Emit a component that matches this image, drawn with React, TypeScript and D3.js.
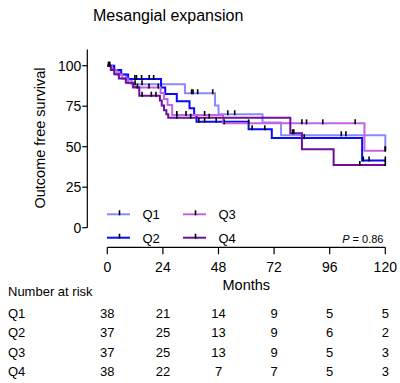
import React from "react";
import * as d3 from "d3";

// Kaplan–Meier step data: event times (months) and survival (%) after each step
const q1Times = [0, 2.5, 5, 8, 10.5, 33.5, 46.5, 48, 67, 75, 120];
const q1Surv = [100, 97.3, 94.6, 91.3, 88.5, 83, 75.5, 70, 65, 57, 48];
const q1Censor = [1, 12, 15, 36.4, 37, 39, 45.5, 52, 55, 101, 103, 120];

const q2Times = [0, 3, 6, 9, 23.2, 25, 30, 35.5, 37.5, 38.5, 61, 71, 110];
const q2Surv = [100, 97.3, 94.6, 91.8, 86.5, 82.5, 78, 73.7, 69.5, 65.4, 60.7, 55.3, 41.5];
const q2Censor = [1, 11.9, 12.6, 14.8, 18.1, 20, 39.5, 42, 47, 62.5, 68, 85, 110.5, 113, 120];

const q3Times = [0, 2, 4, 6.5, 9, 11, 23, 24.5, 26, 28, 50, 111];
const q3Surv = [100, 97.3, 94.6, 91.9, 89.2, 86.5, 83.2, 79.5, 75.7, 69.6, 64.4, 47.5];
const q3Censor = [13, 18, 22, 30, 34, 42, 50.5, 61, 84, 86, 93, 107, 120];

const q4Times = [0, 1.5, 3, 5, 8, 11.2, 13.8, 22.7, 23.5, 24.5, 25.5, 26.3, 79, 84, 97.7];
const q4Surv = [100, 97.4, 94.7, 92.1, 89.5, 86.7, 81.5, 78.5, 75.5, 72.5, 70, 67.9, 58.3, 48.4, 38.7];
const q4Censor = [0.5, 15, 19, 21, 30, 36, 44, 80, 80.5, 109, 120];

const groupNames = ["Q1", "Q2", "Q3", "Q4"];
const groupColors = ["#8a8aff", "#0a0aff", "#c264e6", "#6c0ea0"];

const xTicks = [0, 24, 48, 72, 96, 120];
const yTicks = [0, 25, 50, 75, 100];

// Number at risk at each x tick
const riskQ1 = [38, 21, 14, 9, 5, 5];
const riskQ2 = [37, 25, 13, 9, 6, 2];
const riskQ3 = [37, 25, 13, 9, 5, 3];
const riskQ4 = [38, 22, 7, 7, 5, 3];

const pValueText = "0.86";

const FONT = "'Liberation Sans', Arial, Helvetica, sans-serif";

export default function App() {
  const width = 400;
  const height = 383;
  const x = d3.scaleLinear().domain([0, 120]).range([107.3, 385.3]);
  const y = d3.scaleLinear().domain([0, 110]).range([227.7, 49.5]);
  const yAxisX = 87.3;
  const xAxisY = 247.3;

  const groups = [
    { times: q1Times, surv: q1Surv, censor: q1Censor },
    { times: q2Times, surv: q2Surv, censor: q2Censor },
    { times: q3Times, surv: q3Surv, censor: q3Censor },
    { times: q4Times, surv: q4Surv, censor: q4Censor },
  ];
  const risks = [riskQ1, riskQ2, riskQ3, riskQ4];

  const line = d3
    .line<[number, number]>()
    .x((d) => x(d[0]))
    .y((d) => y(d[1]))
    .curve(d3.curveStepAfter);

  const survAt = (times: number[], surv: number[], t: number) => {
    let v = surv[0];
    for (let i = 0; i < times.length; i++) if (times[i] <= t) v = surv[i];
    return v;
  };

  const legendRows = [
    { idx: 0, lx: 107, ly: 214.3 },
    { idx: 2, lx: 183, ly: 214.3 },
    { idx: 1, lx: 107, ly: 237.7 },
    { idx: 3, lx: 183, ly: 237.7 },
  ];

  const riskRowY = [317.5, 337, 356.5, 376];

  return (
    <svg
      width={width}
      height={height}
      style={{ position: "absolute", left: 0, top: 0, background: "#fff" }}
      fontFamily={FONT}
    >
      <rect width={width} height={height} fill="#fff" />
      <text x={93} y={21} fontSize={16} fill="#000">
        Mesangial expansion
      </text>

      {/* y axis */}
      <line x1={yAxisX} x2={yAxisX} y1={y(110)} y2={y(0)} stroke="#000" strokeWidth={1.2} />
      {yTicks.map((t) => (
        <g key={"yt" + t}>
          <line x1={yAxisX - 5} x2={yAxisX} y1={y(t)} y2={y(t)} stroke="#000" strokeWidth={1.2} />
          <text x={yAxisX - 6} y={y(t) + 5} fontSize={14} textAnchor="end" fill="#000">
            {t}
          </text>
        </g>
      ))}
      <text
        transform={`translate(45, 138) rotate(-90)`}
        textAnchor="middle"
        fontSize={14.5}
        fill="#000"
      >
        Outcome free survival
      </text>

      {/* x axis */}
      <line x1={x(0)} x2={x(120)} y1={xAxisY} y2={xAxisY} stroke="#000" strokeWidth={1.2} />
      {xTicks.map((t) => (
        <g key={"xt" + t}>
          <line x1={x(t)} x2={x(t)} y1={xAxisY} y2={xAxisY + 7} stroke="#000" strokeWidth={1.2} />
          <text x={x(t)} y={272} fontSize={14} textAnchor="middle" fill="#000">
            {t}
          </text>
        </g>
      ))}
      <text x={(x(0) + x(120)) / 2} y={290} fontSize={14.5} textAnchor="middle" fill="#000">
        Months
      </text>

      {/* survival curves */}
      {groups.map((g, i) => {
        const pts: [number, number][] = g.times.map((t, k) => [t, g.surv[k]]);
        const last = pts[pts.length - 1];
        if (last[0] < 120) pts.push([120, last[1]]);
        return (
          <path
            key={"c" + i}
            d={line(pts) || ""}
            fill="none"
            stroke={groupColors[i]}
            strokeWidth={2}
          />
        );
      })}
      {/* censoring marks */}
      {groups.map((g, i) =>
        g.censor.map((t, k) => {
          const sy = y(survAt(g.times, g.surv, t));
          return (
            <line
              key={"m" + i + "-" + k}
              x1={x(t)}
              x2={x(t)}
              y1={sy - 4}
              y2={sy + 1}
              stroke="#000"
              strokeWidth={1.6}
            />
          );
        })
      )}

      {/* legend */}
      {legendRows.map((r) => (
        <g key={"lg" + r.idx}>
          <line x1={r.lx} x2={r.lx + 23} y1={r.ly} y2={r.ly} stroke={groupColors[r.idx]} strokeWidth={2} />
          <line x1={r.lx + 12.5} x2={r.lx + 12.5} y1={r.ly - 4} y2={r.ly + 1} stroke="#000" strokeWidth={1.6} />
          <text x={r.lx + 35.5} y={r.ly + 5} fontSize={13} fill="#000">
            {groupNames[r.idx]}
          </text>
        </g>
      ))}
      <text x={383.5} y={242.5} fontSize={11} textAnchor="end" fill="#000">
        <tspan fontStyle="italic">P</tspan> = {pValueText}
      </text>

      {/* number at risk table */}
      <text x={8} y={296} fontSize={13} fill="#000">
        Number at risk
      </text>
      {risks.map((row, i) => (
        <g key={"r" + i}>
          <text x={8} y={riskRowY[i]} fontSize={13} fill="#000">
            {groupNames[i]}
          </text>
          {row.map((v, k) => (
            <text key={k} x={x(xTicks[k])} y={riskRowY[i]} fontSize={13} textAnchor="middle" fill="#000">
              {v}
            </text>
          ))}
        </g>
      ))}
    </svg>
  );
}
